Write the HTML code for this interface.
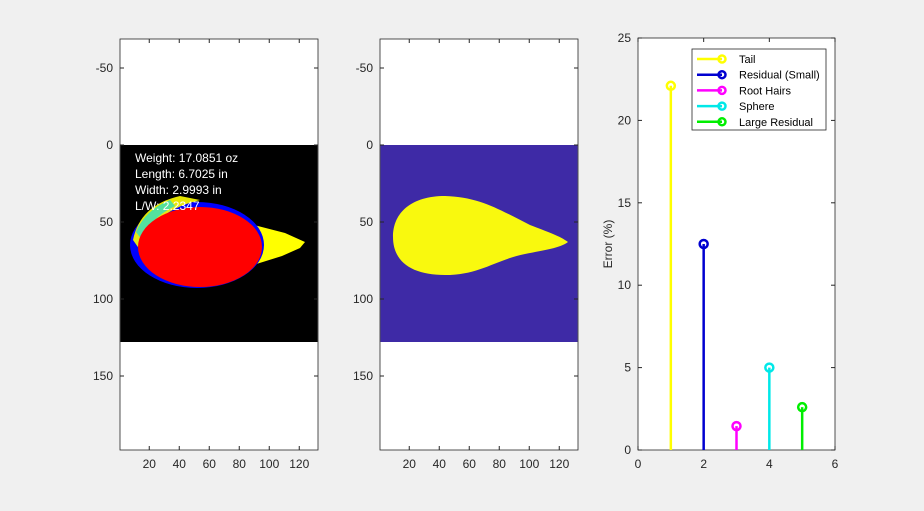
<!DOCTYPE html>
<html><head><meta charset="utf-8"><style>
body{margin:0;background:#f0f0f0;}
svg text{font-family:"Liberation Sans",Arial,sans-serif;}
</style></head><body>
<svg id="fig" width="924" height="506" viewBox="0 0 924 506">
<rect width="924" height="506" fill="#f0f0f0"/>
<g>
<rect x="120" y="39" width="198" height="411" fill="#fff" stroke="#262626" stroke-width="0.8"/>
<rect x="120.5" y="145" width="197" height="197" fill="#000"/>
<path d="M250,224 L285,233 L305,242 L300,248 L282,256 L250,266 Z" fill="#ffff00"/>
<ellipse cx="197" cy="245" rx="67" ry="43" fill="#0000ff"/>
<path d="M133,240 Q140,205 180,196 L200,200 Q150,212 140,250 Z" fill="#ffff00" opacity="0.9"/>
<path d="M136,232 Q145,210 170,200 L175,206 Q150,218 142,240 Z" fill="#30e0c0" opacity="0.8"/>
<ellipse cx="200" cy="247" rx="62" ry="40" fill="#ff0000"/>
<g fill="#fff" font-size="12">
<text x="135" y="162">Weight: 17.0851 oz</text>
<text x="135" y="178">Length: 6.7025 in</text>
<text x="135" y="194">Width: 2.9993 in</text>
<text x="135" y="210">L/W: 2.2347</text>
</g>
</g>
<g>
<rect x="380" y="39" width="198" height="411" fill="#fff" stroke="#262626" stroke-width="0.8"/>
<rect x="380.5" y="145" width="197" height="197" fill="#3e2aa6"/>
<path d="M393,237 C393,212 412,196 445,196 C480,197 500,210 530,225 C548,232 560,236 568,242 C560,248 545,250 525,254 C495,260 480,275 445,275 C412,275 393,262 393,237 Z" fill="#f9f90e"/>
</g>
<g id="stemAxes">
<rect x="638" y="38" width="197" height="412" fill="#fff" stroke="#262626" stroke-width="0.8"/>
</g>
<text x="612" y="244" font-size="12" fill="#262626" text-anchor="middle" transform="rotate(-90 612 244)">Error (%)</text>
<g id="legend"></g>
</svg>
<script>
const NS="http://www.w3.org/2000/svg";
const categories=["Tail","Residual (Small)","Root Hairs","Sphere","Large Residual"];
const xValues=[1,2,3,4,5];
const errorValues=[22.1,12.5,1.45,5.0,2.6];
const colors=["#ffff00","#0000d0","#ff00ff","#00e8e8","#00ee00"];
const xTicks=[0,2,4,6];
const yTicks=[0,5,10,15,20,25];
const imgXTicks=[20,40,60,80,100,120];
const imgYTicks=[-50,0,50,100,150];
function mk(t,a,p){const e=document.createElementNS(NS,t);for(const k in a)e.setAttribute(k,a[k]);(p||document.getElementById('fig')).appendChild(e);return e;}
const sx=v=>638+v*(197/6), sy=v=>450-v*(412/25);
const sg=document.getElementById('stemAxes');
xTicks.forEach(t=>{
 const l=mk('line',{x1:sx(t),x2:sx(t),y1:450,y2:446,stroke:'#262626'},sg);
 
 mk('line',{x1:sx(t),x2:sx(t),y1:38,y2:42,stroke:'#262626'},sg);
 const tx=mk('text',{x:sx(t),y:468,'font-size':12,fill:'#262626','text-anchor':'middle'},sg);tx.textContent=t;
 
});
yTicks.forEach(t=>{
 mk('line',{x1:638,x2:642,y1:sy(t),y2:sy(t),stroke:'#262626'},sg);
 mk('line',{x1:835,x2:831,y1:sy(t),y2:sy(t),stroke:'#262626'},sg);
 const tx=mk('text',{x:631,y:sy(t)+4,'font-size':12,fill:'#262626','text-anchor':'end'},sg);tx.textContent=t;
 
});
errorValues.forEach((v,i)=>{
 const g=mk('g',{},sg);
 
 
 mk('line',{x1:sx(xValues[i]),x2:sx(xValues[i]),y1:sy(0),y2:sy(v),stroke:colors[i],'stroke-width':2.5},g);
 mk('circle',{cx:sx(xValues[i]),cy:sy(v),r:4,fill:'none',stroke:colors[i],'stroke-width':2.5},g);
});
const lg=document.getElementById('legend');
mk('rect',{x:692,y:49,width:134,height:81,fill:'#fff',stroke:'#262626','stroke-width':0.8},lg);
categories.forEach((c,i)=>{
 const y=59+i*15.7;
 const g=mk('g',{},lg);
 
 
 mk('line',{x1:697,x2:722,y1:y,y2:y,stroke:colors[i],'stroke-width':2.5},g);
 mk('circle',{cx:722,cy:y,r:3.5,fill:'none',stroke:colors[i],'stroke-width':2.5},g);
 const t=mk('text',{x:739,y:y+4,'font-size':11,fill:'#000'},g);t.textContent=c;
});
[120,380].forEach(x0=>{
 const ix=d=>x0+(d-0.5)*1.5, iy=d=>145+d*1.54;
 imgXTicks.forEach(t=>{
  mk('line',{x1:ix(t),x2:ix(t),y1:450,y2:446,stroke:'#262626'});
  mk('line',{x1:ix(t),x2:ix(t),y1:39,y2:43,stroke:'#262626'});
  const tx=mk('text',{x:ix(t),y:468,'font-size':12,fill:'#262626','text-anchor':'middle'});tx.textContent=t;
  
 });
 imgYTicks.forEach(t=>{
  mk('line',{x1:x0,x2:x0+4,y1:iy(t),y2:iy(t),stroke:'#262626'});
  mk('line',{x1:x0+198,x2:x0+194,y1:iy(t),y2:iy(t),stroke:'#262626'});
  const tx=mk('text',{x:x0-7,y:iy(t)+4,'font-size':12,fill:'#262626','text-anchor':'end'});tx.textContent=t;
  
 });
});
</script>
</body></html>
